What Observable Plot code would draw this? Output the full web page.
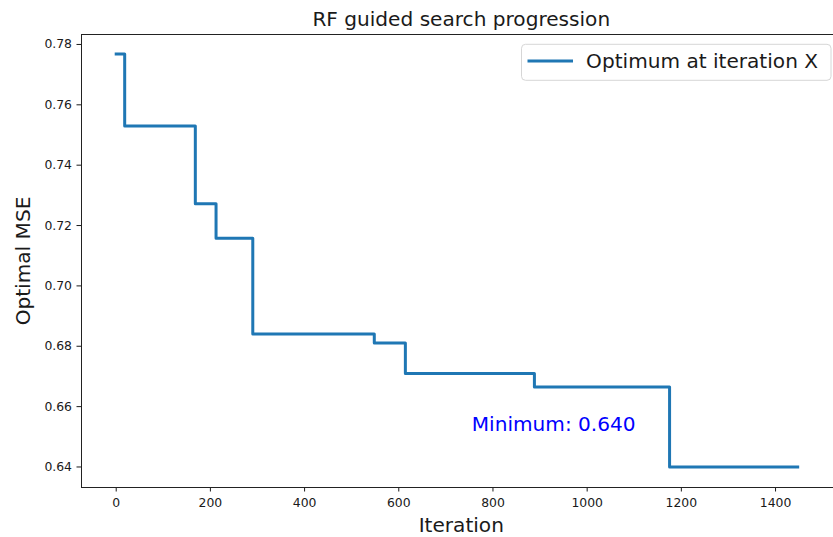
<!DOCTYPE html>
<html>
<head>
<meta charset="utf-8">
<script src="https://cdn.jsdelivr.net/npm/d3@7"></script>
<script src="https://cdn.jsdelivr.net/npm/@observablehq/plot@0.6"></script>
<style>
  html, body { margin: 0; padding: 0; background: #fff; }
  #wrap { width: 833px; height: 537px; overflow: hidden; position: relative; }
  #wrap svg { max-width: none !important; }
</style>
</head>
<body>
<div id="wrap"></div>
<script>
// Data
const iterations = [0, 18, 168, 212, 290, 548, 614, 888, 1175, 1447];
const mse = [0.7768, 0.7530, 0.7272, 0.7158, 0.6841, 0.6811, 0.6710, 0.6665, 0.6400, 0.6400];
const xTicks = [0, 200, 400, 600, 800, 1000, 1200, 1400];
const yTicks = [0.64, 0.66, 0.68, 0.70, 0.72, 0.74, 0.76, 0.78];
const titleText = "RF guided search progression";
const xLabel = "Iteration";
const yLabel = "Optimal MSE";
const legendLabel = "Optimum at iteration X";
const minValue = d3.min(mse);
const annotation = `Minimum: ${minValue.toFixed(3)}`;

const data = iterations.map((x, i) => ({x, y: mse[i]}));
const FONT = "DejaVu Sans";
const BIG = 20.1;
const INK = "#1a1a1a";

function legend(index, scales, values, dims) {
  const right = dims.width - dims.marginRight;
  const top = dims.marginTop;
  const g = d3.create("svg:g").attr("font-family", FONT);
  const x0 = right - 319, x1 = right - 9.5, y0 = top + 10.3, y1 = top + 46.3;
  g.append("rect")
    .attr("x", x0).attr("y", y0).attr("width", x1 - x0).attr("height", y1 - y0)
    .attr("rx", 4).attr("fill", "#fff").attr("fill-opacity", 0.8)
    .attr("stroke", "#d6d6d6").attr("stroke-width", 1);
  const ly = (y0 + y1) / 2 - 1.3;
  g.append("line")
    .attr("x1", x0 + 7.5).attr("x2", x0 + 50).attr("y1", ly).attr("y2", ly)
    .attr("stroke", "#1f77b4").attr("stroke-width", 3).attr("stroke-linecap", "square");
  g.append("text")
    .attr("x", x0 + 64.6).attr("y", ly).attr("dy", "0.36em")
    .attr("text-anchor", "start")
    .attr("font-size", BIG).attr("fill", INK)
    .text(legendLabel);
  return g.node();
}

const chart = Plot.plot({
  width: 841,
  height: 537,
  marginLeft: 81,
  marginRight: 0.5,
  marginTop: 34,
  marginBottom: 50,
  style: {fontFamily: FONT, fontSize: "12.4px", color: INK, background: "#fff", maxWidth: "none"},
  x: {domain: [-73.7, 1539], ticks: xTicks, tickSize: 4.5, tickPadding: 6.5, tickFormat: d3.format("d"), label: null},
  y: {domain: [0.6332, 0.7833], ticks: yTicks, tickSize: 4.5, tickPadding: 5, tickFormat: d3.format(".2f"), label: null},
  marks: [
    Plot.frame({stroke: "#222", strokeWidth: 1}),
    Plot.line(data, {x: "x", y: "y", curve: "step-after", stroke: "#1f77b4", strokeWidth: 3, strokeLinecap: "square", strokeLinejoin: "round"}),
    Plot.text([annotation], {x: () => 755, y: () => 0.6541, text: d => d, textAnchor: "start", lineAnchor: "middle", fill: "#0000ff", fontSize: BIG}),
    Plot.text([titleText], {frameAnchor: "top", dy: -8.2, text: d => d, lineAnchor: "bottom", fontSize: BIG, fill: INK}),
    Plot.text([xLabel], {frameAnchor: "bottom", dy: 44, text: d => d, lineAnchor: "bottom", fontSize: BIG, fill: INK}),
    Plot.text([yLabel], {frameAnchor: "left", dx: -51.7, rotate: -90, text: d => d, lineAnchor: "bottom", textAnchor: "middle", fontSize: BIG, fill: INK}),
    legend
  ]
});
chart.style.maxWidth = "none";
document.getElementById("wrap").appendChild(chart);
</script>
</body>
</html>
